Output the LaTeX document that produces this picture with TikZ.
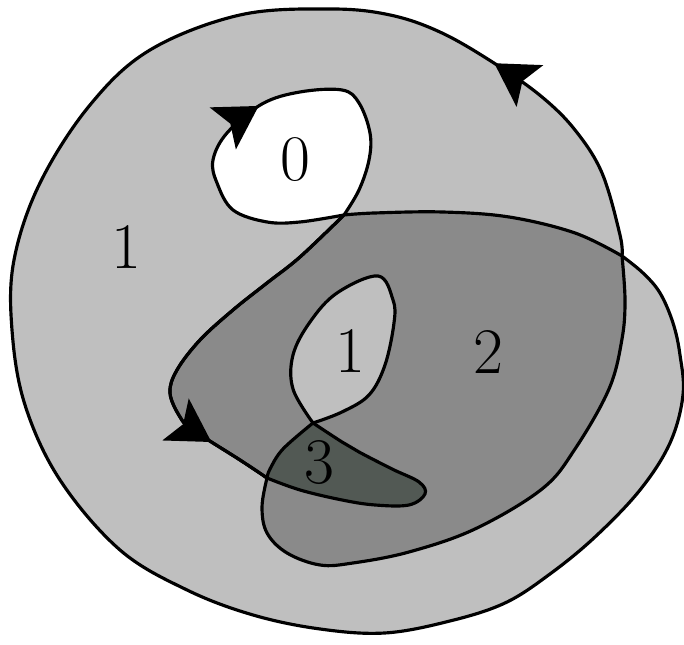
\documentclass[tikz,border=0pt]{standalone}
\usepackage{amsmath,amssymb}
\usetikzlibrary{arrows.meta,decorations.markings}
\definecolor{windone}{RGB}{191,191,191}
\definecolor{windtwo}{RGB}{138,138,138}
\definecolor{windthree}{RGB}{82,89,84}
\tikzset{
  windline/.style={line width=0.9pt,line join=round},
  flow at/.style={postaction={decorate},decoration={markings,
    mark=at position #1 with {\arrow{Stealth[length=12pt,width=14pt,inset=2.5pt]}}}},
  wnum/.style={font=\fontsize{18.5}{22}\selectfont}
}
\newcommand\sweepS{plot[smooth,tension=.6] coordinates {(3.44,4.30) (3.00,3.88) (2.67,3.62) (2.33,3.35) (2.00,3.05) (1.77,2.75) (1.70,2.52) (1.80,2.28) (1.93,2.15) (2.40,1.85) (2.67,1.67)}}
\begin{document}
\begin{tikzpicture}
\useasboundingbox (0,0) rectangle (6.84,6.45);
\filldraw[windline,fill=windone,flow at=2.42cm] plot[smooth,tension=.6] coordinates {(6.22,3.89) (6.20,4.10) (6.02,4.72) (5.75,5.15) (5.42,5.48) (4.97,5.80) (4.42,6.12) (3.90,6.30) (3.30,6.36) (2.40,6.30) (1.50,5.95) (0.90,5.40) (0.40,4.62) (0.14,3.85) (0.12,3.15) (0.25,2.40) (0.60,1.65) (1.20,0.95) (1.87,0.55) (2.53,0.30) (3.20,0.16) (3.85,0.12) (4.50,0.24) (5.05,0.42) (5.50,0.71) (5.95,1.08) (6.40,1.55) (6.70,2.02) (6.83,2.50) (6.80,2.90) (6.73,3.22) (6.60,3.52) (6.43,3.72) (6.22,3.89)} -- cycle;
\filldraw[windline,fill=white,flow at=2.42cm] plot[smooth,tension=.6] coordinates {(3.44,4.30) (3.00,4.23) (2.67,4.23) (2.33,4.35) (2.17,4.62) (2.13,4.85) (2.27,5.12) (2.62,5.41) (3.00,5.53) (3.42,5.55) (3.59,5.42) (3.70,5.12) (3.69,4.85) (3.59,4.55) (3.44,4.30)} -- cycle;
\filldraw[windline,fill=windtwo] \sweepS
  -- plot[smooth,tension=.6] coordinates {(2.67,1.67) (2.62,1.38) (2.67,1.12) (2.87,0.92) (3.20,0.80) (3.53,0.82) (4.09,0.93) (4.75,1.16) (5.42,1.56) (5.75,1.96) (6.09,2.56) (6.22,3.06) (6.25,3.45) (6.22,3.89)}
  -- plot[smooth,tension=.6] coordinates {(6.22,3.89) (5.75,4.12) (5.09,4.28) (4.42,4.33) (3.75,4.32) (3.44,4.30)} -- cycle;
\draw[windline,flow at=3.2cm] \sweepS;
\filldraw[windline,fill=windone] plot[smooth,tension=.6] coordinates {(3.13,2.22) (2.93,2.56) (2.93,2.90) (3.10,3.23) (3.37,3.52) (3.78,3.69) (3.93,3.45) (3.94,3.22) (3.85,2.80) (3.69,2.50) (3.42,2.33) (3.13,2.22)} -- cycle;
\filldraw[windline,fill=windthree] plot[smooth,tension=.6] coordinates {(2.67,1.67) (3.00,1.55) (3.42,1.45) (3.75,1.40) (4.09,1.40) (4.25,1.51) (4.19,1.63) (3.92,1.76) (3.59,1.93) (3.42,2.03) (3.13,2.22)}
  -- plot[smooth,tension=.6] coordinates {(3.13,2.22) (2.83,1.96) (2.70,1.76) (2.67,1.67)} -- cycle;
\node[wnum] (wzero) at (2.95,4.85) {0};
\node[wnum] (wouter) at (1.26,3.98) {1};
\node[wnum] (winner) at (3.50,2.94) {1};
\node[wnum] (wtwo) at (4.88,2.93) {2};
\node[wnum] (wthree) at (3.19,1.82) {3};
\end{tikzpicture}
\end{document}
